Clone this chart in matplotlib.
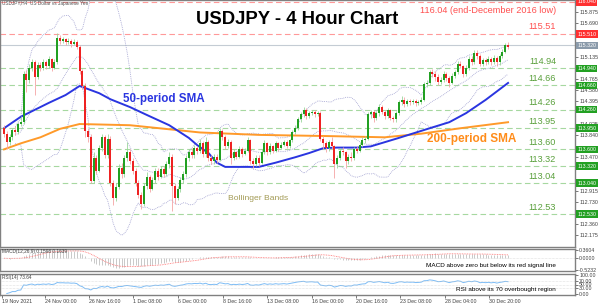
import numpy as np
import pandas as pd
import matplotlib
matplotlib.use("Agg")
import matplotlib.pyplot as plt
from matplotlib import transforms

plt.rcParams['font.family'] = ['Liberation Sans', 'DejaVu Sans']

# USDJPY 4-hour candles (19 Nov - 31 Dec 2021)
first_open = 113.95
closes = [113.85, 113.72, 113.80, 113.92, 113.88, 114.02, 114.05, 114.85, 114.75, 114.95,
          115.05, 114.80, 115.00, 114.95, 115.05, 114.98, 115.10, 114.95, 115.05, 115.45,
          115.40, 115.42, 115.38, 115.40, 115.35, 115.38, 115.30, 114.90, 114.65, 113.90,
          113.80, 113.08, 113.45, 113.25, 113.62, 113.80, 113.50, 113.78, 113.05, 112.80,
          112.98, 113.30, 113.20, 113.45, 113.55, 113.40, 113.25, 113.05, 112.85, 112.70,
          113.00, 113.15, 112.95, 113.10, 113.25, 113.15, 113.28, 113.20, 113.35, 113.48,
          113.00, 112.80, 112.95, 113.10, 113.20, 113.45, 113.55, 113.50, 113.62, 113.58,
          113.70, 113.52, 113.72, 113.45, 113.40, 113.48, 113.42, 113.90, 113.80, 113.65,
          113.72, 113.45, 113.55, 113.48, 113.60, 113.52, 113.58, 113.75, 113.40, 113.35,
          113.45, 113.38, 113.55, 113.70, 113.55, 113.65, 113.58, 113.70, 113.62, 113.68,
          113.72, 113.65, 113.75, 113.88, 113.95, 114.10, 114.18, 114.25, 114.15, 114.20,
          114.22, 114.18, 114.20, 113.78, 113.70, 113.62, 113.72, 113.65, 113.35, 113.45,
          113.58, 113.55, 113.40, 113.48, 113.45, 113.60, 113.58, 113.68, 113.75, 113.78,
          114.18, 114.22, 114.12, 114.20, 114.30, 114.22, 114.15, 114.25, 114.12, 114.10,
          114.20, 114.38, 114.42, 114.35, 114.40, 114.38, 114.40, 114.36, 114.38, 114.42,
          114.68, 114.70, 114.88, 114.85, 114.80, 114.72, 114.75, 114.85, 114.78, 114.70,
          114.82, 114.88, 115.02, 114.98, 114.85, 114.95, 115.10, 115.05, 115.20, 115.15,
          115.02, 115.08, 115.05, 115.10, 115.05, 115.12, 115.05, 115.15, 115.22, 115.33,
          115.30]
highs = [114.00, 113.90, 113.85, 113.96, 113.98, 114.06, 114.15, 114.90, 114.92, 115.02,
         115.10, 115.08, 115.05, 115.04, 115.10, 115.08, 115.14, 115.12, 115.10, 115.53,
         115.50, 115.46, 115.45, 115.44, 115.43, 115.42, 115.41, 115.33, 114.93, 114.70,
         113.95, 113.85, 113.55, 113.50, 113.68, 113.85, 113.84, 113.85, 113.82, 113.10,
         113.05, 113.35, 113.38, 113.50, 113.72, 113.60, 113.45, 113.30, 113.10, 112.90,
         113.05, 113.22, 113.18, 113.15, 113.30, 113.30, 113.33, 113.32, 113.40, 113.55,
         113.52, 113.05, 113.00, 113.15, 113.25, 113.50, 113.60, 113.62, 113.68, 113.66,
         113.78, 113.74, 113.80, 113.75, 113.50, 113.53, 113.52, 113.96, 113.93, 113.84,
         113.78, 113.75, 113.60, 113.58, 113.65, 113.64, 113.62, 113.80, 113.78, 113.45,
         113.50, 113.50, 113.60, 113.75, 113.73, 113.70, 113.68, 113.74, 113.72, 113.72,
         113.76, 113.75, 113.78, 113.92, 114.00, 114.14, 114.22, 114.30, 114.28, 114.24,
         114.26, 114.25, 114.24, 114.23, 113.82, 113.74, 113.76, 113.80, 113.68, 113.50,
         113.62, 113.64, 113.58, 113.52, 113.55, 113.64, 113.66, 113.72, 113.80, 113.82,
         114.22, 114.26, 114.25, 114.24, 114.35, 114.33, 114.25, 114.28, 114.27, 114.16,
         114.24, 114.42, 114.48, 114.46, 114.44, 114.43, 114.44, 114.43, 114.42, 114.46,
         114.72, 114.75, 114.92, 114.93, 114.90, 114.84, 114.80, 114.90, 114.88, 114.82,
         114.86, 114.92, 115.06, 115.06, 115.00, 115.00, 115.14, 115.14, 115.24, 115.24,
         115.18, 115.12, 115.12, 115.14, 115.13, 115.16, 115.15, 115.18, 115.26, 115.36,
         115.37]
lows = [113.80, 113.60, 113.68, 113.76, 113.84, 113.85, 113.98, 114.02, 114.55, 114.70,
        114.90, 114.50, 114.76, 114.90, 114.92, 114.93, 114.95, 114.90, 114.93, 115.02,
        115.35, 115.36, 115.33, 115.34, 115.30, 115.32, 115.26, 114.85, 114.60, 113.80,
        113.72, 113.05, 113.04, 113.20, 113.22, 113.58, 113.45, 113.45, 113.00, 112.68,
        112.75, 112.95, 113.12, 113.15, 113.40, 113.35, 113.20, 113.00, 112.80, 112.62,
        112.66, 112.95, 112.90, 112.92, 113.05, 113.10, 113.12, 113.15, 113.16, 113.30,
        112.58, 112.70, 112.76, 112.90, 113.05, 113.15, 113.40, 113.45, 113.46, 113.52,
        113.54, 113.48, 113.48, 113.40, 113.35, 113.36, 113.38, 113.40, 113.75, 113.60,
        113.62, 113.35, 113.42, 113.44, 113.45, 113.48, 113.50, 113.55, 113.35, 113.30,
        113.32, 113.33, 113.35, 113.52, 113.50, 113.52, 113.54, 113.55, 113.58, 113.60,
        113.65, 113.62, 113.62, 113.72, 113.85, 113.92, 114.06, 114.14, 114.10, 114.12,
        114.17, 114.14, 114.15, 113.74, 113.60, 113.55, 113.58, 113.60, 113.12, 113.30,
        113.42, 113.50, 113.30, 113.35, 113.40, 113.42, 113.54, 113.55, 113.64, 113.70,
        113.75, 114.12, 114.05, 114.08, 114.16, 114.18, 114.10, 114.12, 114.08, 114.05,
        114.06, 114.17, 114.34, 114.30, 114.32, 114.34, 114.35, 114.32, 114.33, 114.35,
        114.40, 114.64, 114.66, 114.80, 114.74, 114.66, 114.68, 114.72, 114.74, 114.64,
        114.68, 114.78, 114.85, 114.94, 114.80, 114.82, 114.92, 115.00, 115.02, 115.10,
        114.98, 114.98, 115.00, 115.02, 115.00, 115.02, 114.98, 115.00, 115.12, 115.20,
        115.26]

# moving averages (bar index -> price)
sma50_bar = [0, 6, 16, 22, 27, 34, 38, 45, 51, 59, 66, 69, 73, 76, 79, 91, 97, 104,
             109, 114, 119, 126, 131, 136, 141, 152, 159, 165, 172, 180]
sma50_val = [113.95, 114.14, 114.37, 114.50, 114.65, 114.53, 114.43, 114.30, 114.17,
             114.00, 113.79, 113.67, 113.54, 113.38, 113.31, 113.31, 113.38, 113.47,
             113.54, 113.62, 113.63, 113.63, 113.65, 113.72, 113.79, 113.95, 114.05,
             114.20, 114.42, 114.70]
sma200_bar = [0, 6, 13, 20, 27, 45, 70, 91, 116, 136, 149, 163, 180]
sma200_val = [113.60, 113.70, 113.80, 113.94, 114.02, 114.00, 113.88, 113.84, 113.82,
              113.80, 113.86, 113.95, 114.05]

# support / resistance levels
red_levels = [116.04, 115.51]
red_texts = ["116.04 (end-December 2016 low)", "115.51"]
green_levels = [114.94, 114.66, 114.26, 113.95, 113.60, 113.32, 113.04, 112.53]
last_price = 115.32

price_ticks = [112.175, 112.360, 112.545, 112.730, 112.915, 113.100, 113.285, 113.470,
               113.655, 113.840, 114.025, 114.210, 114.395, 114.580, 114.765, 114.950,
               115.135, 115.320, 115.505, 115.690, 115.875]
date_labels = ["19 Nov 2021", "24 Nov 00:00", "26 Nov 16:00", "1 Dec 08:00", "6 Dec 00:00",
               "8 Dec 16:00", "13 Dec 08:00", "16 Dec 00:00", "20 Dec 16:00",
               "23 Dec 08:00", "28 Dec 04:00", "30 Dec 20:00"]
date_pos = [-0.7, 14.6, 30.4, 46.1, 62.1, 78.2, 93.9, 110.0, 125.7, 141.4, 157.5, 173.2]

# indicators from the closes
c = pd.Series(closes)
opens = pd.Series([first_open] + closes[:-1])
mid = c.rolling(20, min_periods=5).mean()
sd = c.rolling(20, min_periods=5).std(ddof=0)
upper = mid + 2 * sd
lower = mid - 2 * sd
macd = c.ewm(span=12, adjust=False).mean() - c.ewm(span=26, adjust=False).mean()
signal = macd.rolling(9, min_periods=1).mean()
delta = c.diff()
gain = delta.clip(lower=0).ewm(alpha=1 / 14, adjust=False).mean()
loss = (-delta.clip(upper=0)).ewm(alpha=1 / 14, adjust=False).mean()
rsi = 100 - 100 / (1 + gain / loss)

idx = np.arange(len(closes))

W, H = 600, 304
fig = plt.figure(figsize=(W / 100, H / 100), dpi=100)


def panel(top, bottom, **kw):
    # axes placed by pixel rows, right price scale starts at x=575
    return fig.add_axes([0, 1 - bottom / H, 575 / W, (bottom - top) / H], **kw)


ax = panel(0, 247)
ax_m = panel(249, 271, sharex=ax)
ax_r = panel(274, 295, sharex=ax)

for a in (ax, ax_m, ax_r):
    a.set_facecolor("white")
    for s in a.spines.values():
        s.set_color("#808080")
        s.set_linewidth(1.0)
    a.yaxis.tick_right()
    a.tick_params(axis="y", labelsize=3.8, length=2, width=0.5, pad=1,
                  colors="#404040")
    a.tick_params(axis="x", labelbottom=False, length=0)

ax.set_xlim(-1.43, 203.9)
ax.set_ylim(111.984, 116.073)

# level lines
for lv in red_levels:
    ax.axhline(lv, color="#ff9999", lw=0.8, dashes=(5, 3), zorder=1)
for lv in green_levels:
    ax.axhline(lv, color="#a6d8a0", lw=0.8, dashes=(5, 3), zorder=1)
ax.axhline(last_price, color="#c4ccd4", lw=0.8, zorder=1)

# bollinger bands
for band in (upper, mid, lower):
    ax.plot(idx, band, color="#a0a0d0", lw=0.6, ls=(0, (1, 1.2)), zorder=2)

# moving averages
ax.plot(sma200_bar, sma200_val, color="#ff9a2a", lw=1.4, zorder=3)
ax.plot(sma50_bar, sma50_val, color="#2a35e0", lw=1.4, zorder=3)

# candles
up = c >= opens
body_col = np.where(up, "#22a022", "#ee2222")
wick_col = np.where(up, "#9ad69a", "#f5a3a3")
ax.vlines(idx, lows, highs, colors=wick_col, lw=0.6, zorder=4)
body_lo = np.minimum(opens, c)
body_h = np.maximum(np.abs(c - opens), 0.012)
ax.bar(idx, body_h, bottom=body_lo, width=0.7, color=body_col, lw=0, zorder=5)

# price scale: coloured boxes replace the plain ticks they would cover
box_items = [(116.04, "#ff3030"), (115.51, "#ff3030"), (last_price, "#8a9aaa")]
box_items += [(lv, "#22a022") for lv in green_levels]
box_levels = [lv for lv, _ in box_items]
shown_ticks = [p for p in price_ticks if min(abs(p - b) for b in box_levels) > 0.07]
ax.set_yticks(shown_ticks)
ax.set_yticklabels([f"{p:.3f}" for p in shown_ticks])
lab_tr = transforms.blended_transform_factory(ax.transAxes, ax.transData)
for lv, col in box_items:
    ax.text(1.004, lv, f"{lv:.3f}", transform=lab_tr, fontsize=3.8, color="white",
            va="center", ha="left", clip_on=False, zorder=10,
            bbox=dict(boxstyle="square,pad=0.25", fc=col, ec="none"))

# level labels (the top one sits under its line)
ax.text(556 / 575, 116.04 - 0.07, red_texts[0], transform=lab_tr, fontsize=6.6,
        color="#ff5050", ha="right", va="top", zorder=8)
ax.text(556 / 575, 115.51 + 0.045, red_texts[1], transform=lab_tr, fontsize=6.6,
        color="#ff5050", ha="right", va="bottom", zorder=8)
for lv in green_levels:
    ax.text(556 / 575, lv + 0.04, f"{lv:.2f}", transform=lab_tr, fontsize=6.6,
            color="#5aa03c", ha="right", va="bottom", zorder=8)


def ftext(px, py, s, **kw):
    fig.text(px / W, 1 - py / H, s, **kw)


ftext(297, 20, "USDJPY - 4 Hour Chart", fontsize=13.3, weight="bold",
      ha="center", va="center", color="black")
ftext(164, 99, "50-period SMA", fontsize=8.4, weight="bold", color="#2a35e0",
      ha="center", va="center")
ftext(472, 139, "200-period SMA", fontsize=8.5, weight="bold", color="#ff8c1a",
      ha="center", va="center")
ftext(258, 199, "Bollinger Bands", fontsize=6.1, color="#a39b55",
      ha="center", va="center")
ftext(2, 4, "USDJPY,H4  US Dollar vs Japanese Yen", fontsize=3.4, color="#505050",
      ha="left", va="center")

# MACD panel
ax_m.vlines(idx, 0, macd, colors="#c0c0c0", lw=0.6)
ax_m.plot(idx, signal, color="#ff7070", lw=0.6, ls=(0, (1, 1)))
ax_m.axhline(0, color="#c8c8c8", lw=0.4, ls=(0, (1, 1.5)))
ax_m.set_ylim(-0.58, 0.42)
ax_m.set_yticks([-0.5232, 0.0, 0.3604])
ax_m.set_yticklabels(["-0.5232", "0.0000", "0.3604"])
ftext(2, 252, "MACD(12,26,9) 0.1598 0.1639", fontsize=3.4, color="#404040",
      ha="left", va="center")
ftext(556, 265, "MACD above zero but below its red signal line", fontsize=4.6,
      color="black", ha="right", va="center")

# RSI panel
ax_r.plot(idx, rsi, color="#7dbcf5", lw=0.7)
for lv in (70, 50, 30):
    ax_r.axhline(lv, color="#c8c8c8", lw=0.4, ls=(0, (1, 1.5)))
ax_r.set_ylim(-8, 108)
ax_r.set_yticks([0, 30, 50, 70, 100])
ax_r.set_yticklabels(["0.00", "30.00", "50.00", "70.00", "100.00"])
ftext(2, 277, "RSI(14) 73.64", fontsize=3.4, color="#404040", ha="left", va="center")
ftext(556, 289.5, "RSI above its 70 overbought region", fontsize=4.6,
      color="black", ha="right", va="center")

# time axis
ax_r.set_xticks(date_pos)
ax_r.set_xticklabels(date_labels)
ax_r.tick_params(axis="x", labelbottom=True, labelsize=3.8, length=2, width=0.5,
                 pad=1, colors="#404040")
for t in ax_r.get_xticklabels():
    t.set_ha("left")

fig.savefig("out.png", dpi=100)
